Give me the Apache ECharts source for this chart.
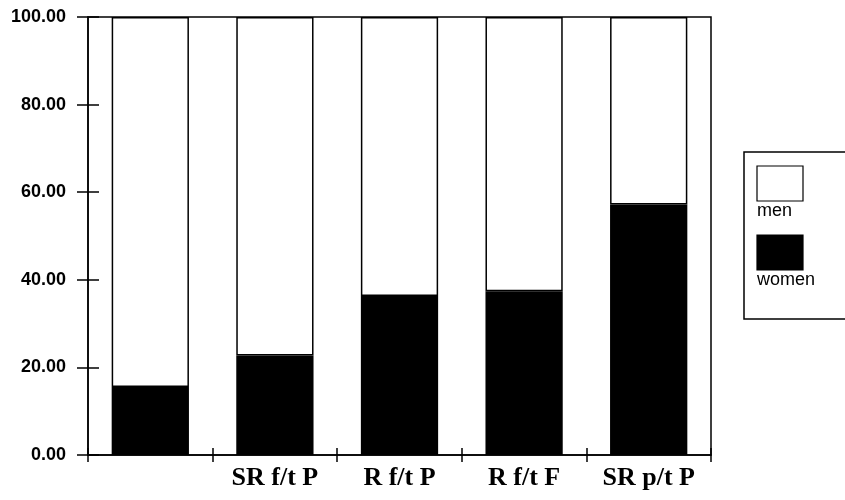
<!DOCTYPE html>
<html>
<head>
<meta charset="utf-8">
<script src="https://cdn.jsdelivr.net/npm/echarts@6/dist/echarts.min.js"></script>
<style>html,body{margin:0;padding:0;background:#fff}#c{width:845px;height:500px}</style>
</head>
<body>
<div id="c"></div>
<script>
const categories = ['', 'SR f/t P', 'R f/t P', 'R f/t F', 'SR p/t P'];
const women = [15.5, 22.7, 36.3, 37.4, 57.2];
const men = [84.5, 77.3, 63.7, 62.6, 42.8];
const yTicks = [0, 20, 40, 60, 80, 100];

const chart = echarts.init(document.getElementById('c'), null, {renderer: 'canvas'});
const black = '#000';
const lw = 1.5;
chart.setOption({
  animation: false,
  grid: {left: 88, right: 134, top: 17, bottom: 45, show: true, borderColor: black, borderWidth: lw, backgroundColor: 'transparent'},
  xAxis: [
    {type: 'category', data: categories, boundaryGap: true, position: 'bottom',
     axisLine: {show: true, lineStyle: {color: black, width: lw}},
     axisTick: {show: true, alignWithLabel: false, interval: 0, length: 7, lineStyle: {color: black, width: lw}},
     axisLabel: {color: black, fontFamily: 'Liberation Serif', fontWeight: 'bold', fontSize: 26, margin: 10, interval: 0}},
    {type: 'category', data: categories, boundaryGap: true, position: 'bottom',
     axisLine: {show: false},
     axisTick: {show: true, alignWithLabel: false, interval: 0, inside: true, length: 7, lineStyle: {color: black, width: lw}},
     axisLabel: {show: false}}
  ],
  yAxis: [
    {type: 'value', min: yTicks[0], max: yTicks[yTicks.length - 1], interval: 20, position: 'left',
     axisLine: {show: true, lineStyle: {color: black, width: lw}},
     axisTick: {show: true, length: 11, lineStyle: {color: black, width: lw}},
     splitLine: {show: false},
     axisLabel: {color: black, fontFamily: 'Liberation Sans', fontWeight: 'bold', fontSize: 18, margin: 22,
                 formatter: v => v.toFixed(2)}},
    {type: 'value', min: yTicks[0], max: yTicks[yTicks.length - 1], interval: 20, position: 'left',
     axisLine: {show: false},
     axisTick: {show: true, inside: true, length: 11, lineStyle: {color: black, width: lw}},
     splitLine: {show: false},
     axisLabel: {show: false}}
  ],
  series: [
    {name: 'women', type: 'bar', stack: 's', data: women, barCategoryGap: '38%',
     itemStyle: {color: black, borderColor: black, borderWidth: lw}},
    {name: 'men', type: 'bar', stack: 's', data: men, barCategoryGap: '38%',
     itemStyle: {color: '#fff', borderColor: black, borderWidth: lw}}
  ],
  graphic: [
    {type: 'rect', shape: {x: 744, y: 152, width: 120, height: 167}, style: {fill: '#fff', stroke: black, lineWidth: lw}},
    {type: 'rect', shape: {x: 757, y: 166, width: 46, height: 35}, style: {fill: '#fff', stroke: black, lineWidth: 1.2}},
    {type: 'text', x: 757, y: 220, style: {text: 'men', fill: black, font: '18px "Liberation Sans"', textVerticalAlign: 'bottom'}},
    {type: 'rect', shape: {x: 757, y: 235, width: 46, height: 35}, style: {fill: black, stroke: black, lineWidth: 1.2}},
    {type: 'text', x: 757, y: 289, style: {text: 'women', fill: black, font: '18px "Liberation Sans"', textVerticalAlign: 'bottom'}}
  ]
});
</script>
</body>
</html>
